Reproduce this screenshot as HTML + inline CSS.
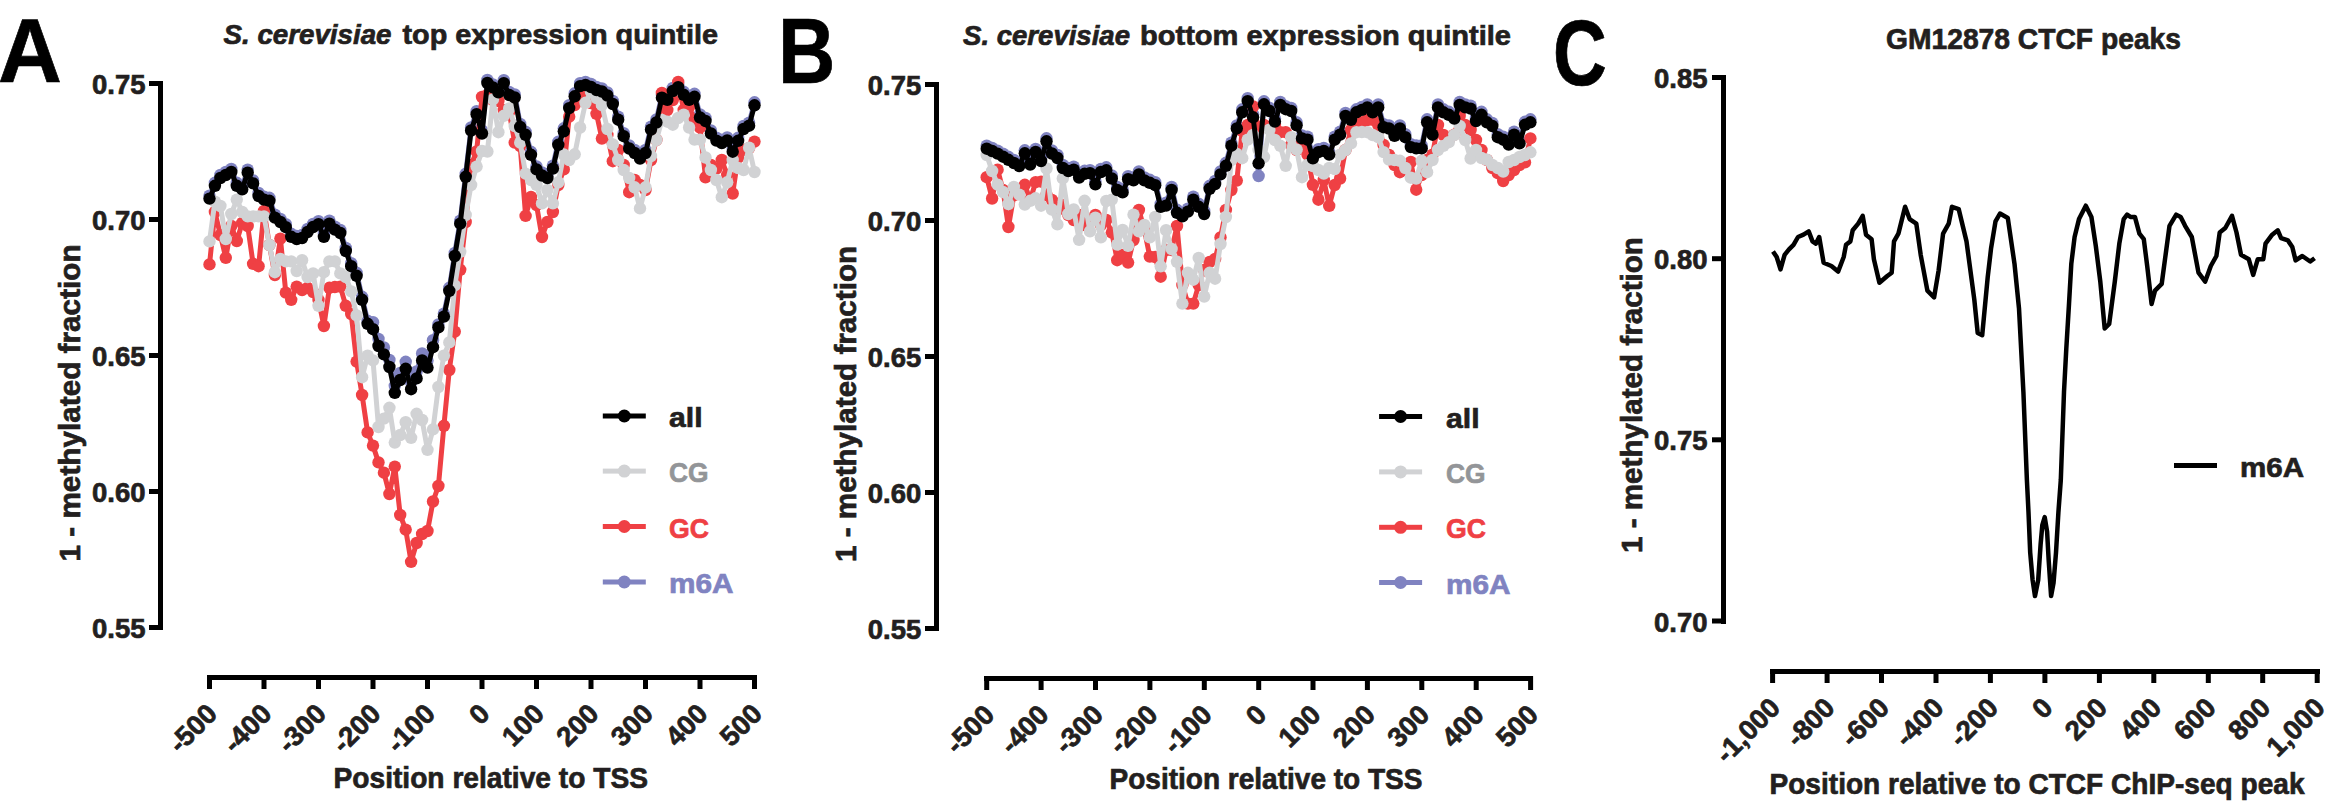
<!DOCTYPE html>
<html><head><meta charset="utf-8"><style>
html,body{margin:0;padding:0;background:#fff;}
svg{display:block;}
text{font-family:"Liberation Sans",sans-serif;stroke-width:0.7px;}
</style></head><body>
<svg width="2334" height="806" viewBox="0 0 2334 806">
<rect width="2334" height="806" fill="#fff"/>
<text transform="translate(-2,81.7) scale(1.005,1.03)" font-size="88" fill="#000" stroke="#000" font-weight="bold">A</text>
<text transform="translate(778,83) scale(0.902,1.05)" font-size="88" fill="#000" stroke="#000" font-weight="bold">B</text>
<text transform="translate(1553,85) scale(0.846,1.045)" font-size="88" fill="#000" stroke="#000" font-weight="bold">C</text>
<rect x="158" y="81" width="5" height="549" fill="#000"/>
<rect x="149" y="81" width="14" height="5" fill="#000"/>
<text x="145.5" y="94" font-size="27.5" fill="#231f20" stroke="#231f20" text-anchor="end" textLength="53.5" lengthAdjust="spacingAndGlyphs" font-weight="bold">0.75</text>
<rect x="149" y="217" width="14" height="5" fill="#000"/>
<text x="145.5" y="230" font-size="27.5" fill="#231f20" stroke="#231f20" text-anchor="end" textLength="53.5" lengthAdjust="spacingAndGlyphs" font-weight="bold">0.70</text>
<rect x="149" y="353" width="14" height="5" fill="#000"/>
<text x="145.5" y="366" font-size="27.5" fill="#231f20" stroke="#231f20" text-anchor="end" textLength="53.5" lengthAdjust="spacingAndGlyphs" font-weight="bold">0.65</text>
<rect x="149" y="489" width="14" height="5" fill="#000"/>
<text x="145.5" y="502" font-size="27.5" fill="#231f20" stroke="#231f20" text-anchor="end" textLength="53.5" lengthAdjust="spacingAndGlyphs" font-weight="bold">0.60</text>
<rect x="149" y="625" width="14" height="5" fill="#000"/>
<text x="145.5" y="638" font-size="27.5" fill="#231f20" stroke="#231f20" text-anchor="end" textLength="53.5" lengthAdjust="spacingAndGlyphs" font-weight="bold">0.55</text>
<rect x="207" y="675" width="550" height="5" fill="#000"/>
<rect x="207" y="675" width="5" height="14" fill="#000"/>
<text transform="translate(218.8,715.5) rotate(-45)" font-size="27.5" fill="#231f20" stroke="#231f20" text-anchor="end" font-weight="bold">-500</text>
<rect x="261.5" y="675" width="5" height="14" fill="#000"/>
<text transform="translate(273.3,715.5) rotate(-45)" font-size="27.5" fill="#231f20" stroke="#231f20" text-anchor="end" font-weight="bold">-400</text>
<rect x="316" y="675" width="5" height="14" fill="#000"/>
<text transform="translate(327.8,715.5) rotate(-45)" font-size="27.5" fill="#231f20" stroke="#231f20" text-anchor="end" font-weight="bold">-300</text>
<rect x="370.5" y="675" width="5" height="14" fill="#000"/>
<text transform="translate(382.3,715.5) rotate(-45)" font-size="27.5" fill="#231f20" stroke="#231f20" text-anchor="end" font-weight="bold">-200</text>
<rect x="425" y="675" width="5" height="14" fill="#000"/>
<text transform="translate(436.8,715.5) rotate(-45)" font-size="27.5" fill="#231f20" stroke="#231f20" text-anchor="end" font-weight="bold">-100</text>
<rect x="479.5" y="675" width="5" height="14" fill="#000"/>
<text transform="translate(491.3,715.5) rotate(-45)" font-size="27.5" fill="#231f20" stroke="#231f20" text-anchor="end" font-weight="bold">0</text>
<rect x="534" y="675" width="5" height="14" fill="#000"/>
<text transform="translate(545.8,715.5) rotate(-45)" font-size="27.5" fill="#231f20" stroke="#231f20" text-anchor="end" font-weight="bold">100</text>
<rect x="588.5" y="675" width="5" height="14" fill="#000"/>
<text transform="translate(600.3,715.5) rotate(-45)" font-size="27.5" fill="#231f20" stroke="#231f20" text-anchor="end" font-weight="bold">200</text>
<rect x="643" y="675" width="5" height="14" fill="#000"/>
<text transform="translate(654.8,715.5) rotate(-45)" font-size="27.5" fill="#231f20" stroke="#231f20" text-anchor="end" font-weight="bold">300</text>
<rect x="697.5" y="675" width="5" height="14" fill="#000"/>
<text transform="translate(709.3,715.5) rotate(-45)" font-size="27.5" fill="#231f20" stroke="#231f20" text-anchor="end" font-weight="bold">400</text>
<rect x="752" y="675" width="5" height="14" fill="#000"/>
<text transform="translate(763.8,715.5) rotate(-45)" font-size="27.5" fill="#231f20" stroke="#231f20" text-anchor="end" font-weight="bold">500</text>
<rect x="934" y="82" width="5" height="549" fill="#000"/>
<rect x="925" y="82" width="14" height="5" fill="#000"/>
<text x="921.3" y="95" font-size="27.5" fill="#231f20" stroke="#231f20" text-anchor="end" textLength="53.5" lengthAdjust="spacingAndGlyphs" font-weight="bold">0.75</text>
<rect x="925" y="218" width="14" height="5" fill="#000"/>
<text x="921.3" y="231" font-size="27.5" fill="#231f20" stroke="#231f20" text-anchor="end" textLength="53.5" lengthAdjust="spacingAndGlyphs" font-weight="bold">0.70</text>
<rect x="925" y="354" width="14" height="5" fill="#000"/>
<text x="921.3" y="367" font-size="27.5" fill="#231f20" stroke="#231f20" text-anchor="end" textLength="53.5" lengthAdjust="spacingAndGlyphs" font-weight="bold">0.65</text>
<rect x="925" y="490" width="14" height="5" fill="#000"/>
<text x="921.3" y="503" font-size="27.5" fill="#231f20" stroke="#231f20" text-anchor="end" textLength="53.5" lengthAdjust="spacingAndGlyphs" font-weight="bold">0.60</text>
<rect x="925" y="626" width="14" height="5" fill="#000"/>
<text x="921.3" y="639" font-size="27.5" fill="#231f20" stroke="#231f20" text-anchor="end" textLength="53.5" lengthAdjust="spacingAndGlyphs" font-weight="bold">0.55</text>
<rect x="984" y="676" width="548.6" height="5" fill="#000"/>
<rect x="984.2" y="676" width="5" height="14" fill="#000"/>
<text transform="translate(996,716.5) rotate(-45)" font-size="27.5" fill="#231f20" stroke="#231f20" text-anchor="end" font-weight="bold">-500</text>
<rect x="1038.6" y="676" width="5" height="14" fill="#000"/>
<text transform="translate(1050.4,716.5) rotate(-45)" font-size="27.5" fill="#231f20" stroke="#231f20" text-anchor="end" font-weight="bold">-400</text>
<rect x="1093" y="676" width="5" height="14" fill="#000"/>
<text transform="translate(1104.8,716.5) rotate(-45)" font-size="27.5" fill="#231f20" stroke="#231f20" text-anchor="end" font-weight="bold">-300</text>
<rect x="1147.4" y="676" width="5" height="14" fill="#000"/>
<text transform="translate(1159.2,716.5) rotate(-45)" font-size="27.5" fill="#231f20" stroke="#231f20" text-anchor="end" font-weight="bold">-200</text>
<rect x="1201.8" y="676" width="5" height="14" fill="#000"/>
<text transform="translate(1213.6,716.5) rotate(-45)" font-size="27.5" fill="#231f20" stroke="#231f20" text-anchor="end" font-weight="bold">-100</text>
<rect x="1256.2" y="676" width="5" height="14" fill="#000"/>
<text transform="translate(1268,716.5) rotate(-45)" font-size="27.5" fill="#231f20" stroke="#231f20" text-anchor="end" font-weight="bold">0</text>
<rect x="1310.5" y="676" width="5" height="14" fill="#000"/>
<text transform="translate(1322.3,716.5) rotate(-45)" font-size="27.5" fill="#231f20" stroke="#231f20" text-anchor="end" font-weight="bold">100</text>
<rect x="1364.9" y="676" width="5" height="14" fill="#000"/>
<text transform="translate(1376.7,716.5) rotate(-45)" font-size="27.5" fill="#231f20" stroke="#231f20" text-anchor="end" font-weight="bold">200</text>
<rect x="1419.3" y="676" width="5" height="14" fill="#000"/>
<text transform="translate(1431.1,716.5) rotate(-45)" font-size="27.5" fill="#231f20" stroke="#231f20" text-anchor="end" font-weight="bold">300</text>
<rect x="1473.7" y="676" width="5" height="14" fill="#000"/>
<text transform="translate(1485.5,716.5) rotate(-45)" font-size="27.5" fill="#231f20" stroke="#231f20" text-anchor="end" font-weight="bold">400</text>
<rect x="1528.1" y="676" width="5" height="14" fill="#000"/>
<text transform="translate(1539.9,716.5) rotate(-45)" font-size="27.5" fill="#231f20" stroke="#231f20" text-anchor="end" font-weight="bold">500</text>
<rect x="1721" y="75" width="5" height="549" fill="#000"/>
<rect x="1712" y="75" width="14" height="5" fill="#000"/>
<text x="1707.5" y="88" font-size="27.5" fill="#231f20" stroke="#231f20" text-anchor="end" textLength="53.5" lengthAdjust="spacingAndGlyphs" font-weight="bold">0.85</text>
<rect x="1712" y="256.2" width="14" height="5" fill="#000"/>
<text x="1707.5" y="269.2" font-size="27.5" fill="#231f20" stroke="#231f20" text-anchor="end" textLength="53.5" lengthAdjust="spacingAndGlyphs" font-weight="bold">0.80</text>
<rect x="1712" y="437.3" width="14" height="5" fill="#000"/>
<text x="1707.5" y="450.3" font-size="27.5" fill="#231f20" stroke="#231f20" text-anchor="end" textLength="53.5" lengthAdjust="spacingAndGlyphs" font-weight="bold">0.75</text>
<rect x="1712" y="618.5" width="14" height="5" fill="#000"/>
<text x="1707.5" y="631.5" font-size="27.5" fill="#231f20" stroke="#231f20" text-anchor="end" textLength="53.5" lengthAdjust="spacingAndGlyphs" font-weight="bold">0.70</text>
<rect x="1770" y="669" width="550" height="5" fill="#000"/>
<rect x="1770.1" y="669" width="5" height="14" fill="#000"/>
<text transform="translate(1781.9,709.5) rotate(-45)" font-size="27.5" fill="#231f20" stroke="#231f20" text-anchor="end" font-weight="bold">-1,000</text>
<rect x="1824.6" y="669" width="5" height="14" fill="#000"/>
<text transform="translate(1836.4,709.5) rotate(-45)" font-size="27.5" fill="#231f20" stroke="#231f20" text-anchor="end" font-weight="bold">-800</text>
<rect x="1879" y="669" width="5" height="14" fill="#000"/>
<text transform="translate(1890.8,709.5) rotate(-45)" font-size="27.5" fill="#231f20" stroke="#231f20" text-anchor="end" font-weight="bold">-600</text>
<rect x="1933.5" y="669" width="5" height="14" fill="#000"/>
<text transform="translate(1945.3,709.5) rotate(-45)" font-size="27.5" fill="#231f20" stroke="#231f20" text-anchor="end" font-weight="bold">-400</text>
<rect x="1987.9" y="669" width="5" height="14" fill="#000"/>
<text transform="translate(1999.7,709.5) rotate(-45)" font-size="27.5" fill="#231f20" stroke="#231f20" text-anchor="end" font-weight="bold">-200</text>
<rect x="2042.4" y="669" width="5" height="14" fill="#000"/>
<text transform="translate(2054.2,709.5) rotate(-45)" font-size="27.5" fill="#231f20" stroke="#231f20" text-anchor="end" font-weight="bold">0</text>
<rect x="2096.9" y="669" width="5" height="14" fill="#000"/>
<text transform="translate(2108.7,709.5) rotate(-45)" font-size="27.5" fill="#231f20" stroke="#231f20" text-anchor="end" font-weight="bold">200</text>
<rect x="2151.3" y="669" width="5" height="14" fill="#000"/>
<text transform="translate(2163.1,709.5) rotate(-45)" font-size="27.5" fill="#231f20" stroke="#231f20" text-anchor="end" font-weight="bold">400</text>
<rect x="2205.8" y="669" width="5" height="14" fill="#000"/>
<text transform="translate(2217.6,709.5) rotate(-45)" font-size="27.5" fill="#231f20" stroke="#231f20" text-anchor="end" font-weight="bold">600</text>
<rect x="2260.2" y="669" width="5" height="14" fill="#000"/>
<text transform="translate(2272,709.5) rotate(-45)" font-size="27.5" fill="#231f20" stroke="#231f20" text-anchor="end" font-weight="bold">800</text>
<rect x="2314.7" y="669" width="5" height="14" fill="#000"/>
<text transform="translate(2326.5,709.5) rotate(-45)" font-size="27.5" fill="#231f20" stroke="#231f20" text-anchor="end" font-weight="bold">1,000</text>
<text x="223.5" y="44.2" font-size="28" fill="#231f20" stroke="#231f20" font-weight="bold" font-style="italic" textLength="168" lengthAdjust="spacingAndGlyphs">S. cerevisiae</text>
<text x="402.5" y="44.2" font-size="28" fill="#231f20" stroke="#231f20" font-weight="bold" textLength="315.5" lengthAdjust="spacingAndGlyphs">top expression quintile</text>
<text x="963" y="45" font-size="28" fill="#231f20" stroke="#231f20" font-weight="bold" font-style="italic" textLength="167" lengthAdjust="spacingAndGlyphs">S. cerevisiae</text>
<text x="1140" y="45" font-size="28" fill="#231f20" stroke="#231f20" font-weight="bold" textLength="371" lengthAdjust="spacingAndGlyphs">bottom expression quintile</text>
<text x="1886" y="48.9" font-size="29" fill="#231f20" stroke="#231f20" text-anchor="start" textLength="295" lengthAdjust="spacingAndGlyphs" font-weight="bold">GM12878 CTCF peaks</text>
<text x="333.5" y="787.7" font-size="29" fill="#231f20" stroke="#231f20" text-anchor="start" textLength="314.5" lengthAdjust="spacingAndGlyphs" font-weight="bold">Position relative to TSS</text>
<text x="1109.5" y="789" font-size="29" fill="#231f20" stroke="#231f20" text-anchor="start" textLength="313" lengthAdjust="spacingAndGlyphs" font-weight="bold">Position relative to TSS</text>
<text x="1769.5" y="794.2" font-size="29" fill="#231f20" stroke="#231f20" text-anchor="start" textLength="535" lengthAdjust="spacingAndGlyphs" font-weight="bold">Position relative to CTCF ChIP-seq peak</text>
<text transform="translate(79.5,561.5) rotate(-90)" font-size="30" fill="#231f20" stroke="#231f20" font-weight="bold" textLength="317.1" lengthAdjust="spacingAndGlyphs">1 - methylated fraction</text>
<text transform="translate(856,562) rotate(-90)" font-size="30" fill="#231f20" stroke="#231f20" font-weight="bold" textLength="316.1" lengthAdjust="spacingAndGlyphs">1 - methylated fraction</text>
<text transform="translate(1642.2,553) rotate(-90)" font-size="30" fill="#231f20" stroke="#231f20" font-weight="bold" textLength="315.9" lengthAdjust="spacingAndGlyphs">1 - methylated fraction</text>
<g>
<polyline points="209.5,195.6 214.9,182.8 220.4,175 225.8,172 231.3,169 236.8,182.8 242.2,186.4 247.7,169.6 253.1,180.4 258.6,193 264,196.6 269.4,197.8 274.9,214.6 280.4,219 285.8,224.2 291.2,233.8 296.7,236 302.1,235 307.6,229 313.1,224 318.5,221.2 323.9,233.8 329.4,220.6 334.9,226.6 340.3,230 345.8,248 351.2,263.2 356.6,272.8 362.1,296.8 367.6,320.8 373,322.2 378.5,339 383.9,347.4 389.4,360 394.8,385.8 400.2,373 405.7,361.8 411.1,382.2 416.6,371.4 422.1,353.4 427.5,360.6 433,340.2 438.4,324.4 443.9,313.6 449.3,287.8 454.8,253 460.2,220.6 465.7,173.8 471.1,127.5 476.6,111.2 482,130.5 487.4,80 492.9,84.4 498.4,89.4 503.8,80.1 509.2,92 514.7,94.5 520.2,124 525.6,131.8 531,151.8 536.5,166.4 542,172.5 547.4,175 552.9,165.6 558.3,141.8 563.8,128.3 569.2,105.1 574.7,93.3 580.1,83.1 585.5,82 591,84 596.5,87 601.9,88.5 607.4,92.5 612.8,101 618.2,116.7 623.7,133.2 629.2,145.5 634.6,150 640,155.5 645.5,150 651,126.6 656.4,119.5 661.9,94.7 667.3,96.9 672.8,88 678.2,84.2 683.7,91.8 689.1,96.9 694.5,93.8 700,114.5 705.5,118 710.9,130.5 716.4,137.6 721.8,140 727.2,137.5 732.7,148.7 738.1,137.8 743.6,126 749.1,122.7 754.5,102.3" fill="none" stroke="#8083c1" stroke-width="5" stroke-linejoin="round"/>
<g fill="#8083c1"><circle cx="209.5" cy="195.6" r="6.2"/><circle cx="214.9" cy="182.8" r="6.2"/><circle cx="220.4" cy="175" r="6.2"/><circle cx="225.8" cy="172" r="6.2"/><circle cx="231.3" cy="169" r="6.2"/><circle cx="236.8" cy="182.8" r="6.2"/><circle cx="242.2" cy="186.4" r="6.2"/><circle cx="247.7" cy="169.6" r="6.2"/><circle cx="253.1" cy="180.4" r="6.2"/><circle cx="258.6" cy="193" r="6.2"/><circle cx="264" cy="196.6" r="6.2"/><circle cx="269.4" cy="197.8" r="6.2"/><circle cx="274.9" cy="214.6" r="6.2"/><circle cx="280.4" cy="219" r="6.2"/><circle cx="285.8" cy="224.2" r="6.2"/><circle cx="291.2" cy="233.8" r="6.2"/><circle cx="296.7" cy="236" r="6.2"/><circle cx="302.1" cy="235" r="6.2"/><circle cx="307.6" cy="229" r="6.2"/><circle cx="313.1" cy="224" r="6.2"/><circle cx="318.5" cy="221.2" r="6.2"/><circle cx="323.9" cy="233.8" r="6.2"/><circle cx="329.4" cy="220.6" r="6.2"/><circle cx="334.9" cy="226.6" r="6.2"/><circle cx="340.3" cy="230" r="6.2"/><circle cx="345.8" cy="248" r="6.2"/><circle cx="351.2" cy="263.2" r="6.2"/><circle cx="356.6" cy="272.8" r="6.2"/><circle cx="362.1" cy="296.8" r="6.2"/><circle cx="367.6" cy="320.8" r="6.2"/><circle cx="373" cy="322.2" r="6.2"/><circle cx="378.5" cy="339" r="6.2"/><circle cx="383.9" cy="347.4" r="6.2"/><circle cx="389.4" cy="360" r="6.2"/><circle cx="394.8" cy="385.8" r="6.2"/><circle cx="400.2" cy="373" r="6.2"/><circle cx="405.7" cy="361.8" r="6.2"/><circle cx="411.1" cy="382.2" r="6.2"/><circle cx="416.6" cy="371.4" r="6.2"/><circle cx="422.1" cy="353.4" r="6.2"/><circle cx="427.5" cy="360.6" r="6.2"/><circle cx="433" cy="340.2" r="6.2"/><circle cx="438.4" cy="324.4" r="6.2"/><circle cx="443.9" cy="313.6" r="6.2"/><circle cx="449.3" cy="287.8" r="6.2"/><circle cx="454.8" cy="253" r="6.2"/><circle cx="460.2" cy="220.6" r="6.2"/><circle cx="465.7" cy="173.8" r="6.2"/><circle cx="471.1" cy="127.5" r="6.2"/><circle cx="476.6" cy="111.2" r="6.2"/><circle cx="482" cy="130.5" r="6.2"/><circle cx="487.4" cy="80" r="6.2"/><circle cx="492.9" cy="84.4" r="6.2"/><circle cx="498.4" cy="89.4" r="6.2"/><circle cx="503.8" cy="80.1" r="6.2"/><circle cx="509.2" cy="92" r="6.2"/><circle cx="514.7" cy="94.5" r="6.2"/><circle cx="520.2" cy="124" r="6.2"/><circle cx="525.6" cy="131.8" r="6.2"/><circle cx="531" cy="151.8" r="6.2"/><circle cx="536.5" cy="166.4" r="6.2"/><circle cx="542" cy="172.5" r="6.2"/><circle cx="547.4" cy="175" r="6.2"/><circle cx="552.9" cy="165.6" r="6.2"/><circle cx="558.3" cy="141.8" r="6.2"/><circle cx="563.8" cy="128.3" r="6.2"/><circle cx="569.2" cy="105.1" r="6.2"/><circle cx="574.7" cy="93.3" r="6.2"/><circle cx="580.1" cy="83.1" r="6.2"/><circle cx="585.5" cy="82" r="6.2"/><circle cx="591" cy="84" r="6.2"/><circle cx="596.5" cy="87" r="6.2"/><circle cx="601.9" cy="88.5" r="6.2"/><circle cx="607.4" cy="92.5" r="6.2"/><circle cx="612.8" cy="101" r="6.2"/><circle cx="618.2" cy="116.7" r="6.2"/><circle cx="623.7" cy="133.2" r="6.2"/><circle cx="629.2" cy="145.5" r="6.2"/><circle cx="634.6" cy="150" r="6.2"/><circle cx="640" cy="155.5" r="6.2"/><circle cx="645.5" cy="150" r="6.2"/><circle cx="651" cy="126.6" r="6.2"/><circle cx="656.4" cy="119.5" r="6.2"/><circle cx="661.9" cy="94.7" r="6.2"/><circle cx="667.3" cy="96.9" r="6.2"/><circle cx="672.8" cy="88" r="6.2"/><circle cx="678.2" cy="84.2" r="6.2"/><circle cx="683.7" cy="91.8" r="6.2"/><circle cx="689.1" cy="96.9" r="6.2"/><circle cx="694.5" cy="93.8" r="6.2"/><circle cx="700" cy="114.5" r="6.2"/><circle cx="705.5" cy="118" r="6.2"/><circle cx="710.9" cy="130.5" r="6.2"/><circle cx="716.4" cy="137.6" r="6.2"/><circle cx="721.8" cy="140" r="6.2"/><circle cx="727.2" cy="137.5" r="6.2"/><circle cx="732.7" cy="148.7" r="6.2"/><circle cx="738.1" cy="137.8" r="6.2"/><circle cx="743.6" cy="126" r="6.2"/><circle cx="749.1" cy="122.7" r="6.2"/><circle cx="754.5" cy="102.3" r="6.2"/></g>
<polyline points="209.5,264.4 214.9,212 220.4,235 225.8,257.8 231.3,226 236.8,241 242.2,223 247.7,226 253.1,263.8 258.6,266.2 264,211 269.4,245 274.9,275 280.4,238.6 285.8,292.6 291.2,299.8 296.7,286.6 302.1,290 307.6,287.8 313.1,292 318.5,300 323.9,326 329.4,287.8 334.9,287 340.3,286.6 345.8,305.8 351.2,314 356.6,361.6 362.1,395 367.6,432.4 373,445.6 378.5,462.4 383.9,472.7 389.4,494 394.8,466.6 400.2,515 405.7,529.6 411.1,561.8 416.6,543 422.1,534 427.5,531 433,501.5 438.4,486 443.9,425.8 449.3,370 454.8,331.6 460.2,269.8 465.7,222 471.1,165 476.6,151.5 482,97 487.4,95 492.9,100 498.4,101 503.8,110 509.2,112 514.7,142.6 520.2,146 525.6,215.9 531,197 536.5,205 542,237 547.4,222 552.9,212 558.3,185 563.8,169.4 569.2,116.7 574.7,105 580.1,94.9 585.5,100 591,103 596.5,113.8 601.9,138.6 607.4,135 612.8,161.2 618.2,150 623.7,165 629.2,192.2 634.6,180 640,185 645.5,190 651,160 656.4,140 661.9,93 667.3,110 672.8,100 678.2,82 683.7,110 689.1,107 694.5,120 700,127.7 705.5,177.3 710.9,165 716.4,168.6 721.8,160 727.2,175 732.7,193.5 738.1,157.5 743.6,150 749.1,148 754.5,141.6" fill="none" stroke="#ef4044" stroke-width="5" stroke-linejoin="round"/>
<g fill="#ef4044"><circle cx="209.5" cy="264.4" r="6.2"/><circle cx="214.9" cy="212" r="6.2"/><circle cx="220.4" cy="235" r="6.2"/><circle cx="225.8" cy="257.8" r="6.2"/><circle cx="231.3" cy="226" r="6.2"/><circle cx="236.8" cy="241" r="6.2"/><circle cx="242.2" cy="223" r="6.2"/><circle cx="247.7" cy="226" r="6.2"/><circle cx="253.1" cy="263.8" r="6.2"/><circle cx="258.6" cy="266.2" r="6.2"/><circle cx="264" cy="211" r="6.2"/><circle cx="269.4" cy="245" r="6.2"/><circle cx="274.9" cy="275" r="6.2"/><circle cx="280.4" cy="238.6" r="6.2"/><circle cx="285.8" cy="292.6" r="6.2"/><circle cx="291.2" cy="299.8" r="6.2"/><circle cx="296.7" cy="286.6" r="6.2"/><circle cx="302.1" cy="290" r="6.2"/><circle cx="307.6" cy="287.8" r="6.2"/><circle cx="313.1" cy="292" r="6.2"/><circle cx="318.5" cy="300" r="6.2"/><circle cx="323.9" cy="326" r="6.2"/><circle cx="329.4" cy="287.8" r="6.2"/><circle cx="334.9" cy="287" r="6.2"/><circle cx="340.3" cy="286.6" r="6.2"/><circle cx="345.8" cy="305.8" r="6.2"/><circle cx="351.2" cy="314" r="6.2"/><circle cx="356.6" cy="361.6" r="6.2"/><circle cx="362.1" cy="395" r="6.2"/><circle cx="367.6" cy="432.4" r="6.2"/><circle cx="373" cy="445.6" r="6.2"/><circle cx="378.5" cy="462.4" r="6.2"/><circle cx="383.9" cy="472.7" r="6.2"/><circle cx="389.4" cy="494" r="6.2"/><circle cx="394.8" cy="466.6" r="6.2"/><circle cx="400.2" cy="515" r="6.2"/><circle cx="405.7" cy="529.6" r="6.2"/><circle cx="411.1" cy="561.8" r="6.2"/><circle cx="416.6" cy="543" r="6.2"/><circle cx="422.1" cy="534" r="6.2"/><circle cx="427.5" cy="531" r="6.2"/><circle cx="433" cy="501.5" r="6.2"/><circle cx="438.4" cy="486" r="6.2"/><circle cx="443.9" cy="425.8" r="6.2"/><circle cx="449.3" cy="370" r="6.2"/><circle cx="454.8" cy="331.6" r="6.2"/><circle cx="460.2" cy="269.8" r="6.2"/><circle cx="465.7" cy="222" r="6.2"/><circle cx="471.1" cy="165" r="6.2"/><circle cx="476.6" cy="151.5" r="6.2"/><circle cx="482" cy="97" r="6.2"/><circle cx="487.4" cy="95" r="6.2"/><circle cx="492.9" cy="100" r="6.2"/><circle cx="498.4" cy="101" r="6.2"/><circle cx="503.8" cy="110" r="6.2"/><circle cx="509.2" cy="112" r="6.2"/><circle cx="514.7" cy="142.6" r="6.2"/><circle cx="520.2" cy="146" r="6.2"/><circle cx="525.6" cy="215.9" r="6.2"/><circle cx="531" cy="197" r="6.2"/><circle cx="536.5" cy="205" r="6.2"/><circle cx="542" cy="237" r="6.2"/><circle cx="547.4" cy="222" r="6.2"/><circle cx="552.9" cy="212" r="6.2"/><circle cx="558.3" cy="185" r="6.2"/><circle cx="563.8" cy="169.4" r="6.2"/><circle cx="569.2" cy="116.7" r="6.2"/><circle cx="574.7" cy="105" r="6.2"/><circle cx="580.1" cy="94.9" r="6.2"/><circle cx="585.5" cy="100" r="6.2"/><circle cx="591" cy="103" r="6.2"/><circle cx="596.5" cy="113.8" r="6.2"/><circle cx="601.9" cy="138.6" r="6.2"/><circle cx="607.4" cy="135" r="6.2"/><circle cx="612.8" cy="161.2" r="6.2"/><circle cx="618.2" cy="150" r="6.2"/><circle cx="623.7" cy="165" r="6.2"/><circle cx="629.2" cy="192.2" r="6.2"/><circle cx="634.6" cy="180" r="6.2"/><circle cx="640" cy="185" r="6.2"/><circle cx="645.5" cy="190" r="6.2"/><circle cx="651" cy="160" r="6.2"/><circle cx="656.4" cy="140" r="6.2"/><circle cx="661.9" cy="93" r="6.2"/><circle cx="667.3" cy="110" r="6.2"/><circle cx="672.8" cy="100" r="6.2"/><circle cx="678.2" cy="82" r="6.2"/><circle cx="683.7" cy="110" r="6.2"/><circle cx="689.1" cy="107" r="6.2"/><circle cx="694.5" cy="120" r="6.2"/><circle cx="700" cy="127.7" r="6.2"/><circle cx="705.5" cy="177.3" r="6.2"/><circle cx="710.9" cy="165" r="6.2"/><circle cx="716.4" cy="168.6" r="6.2"/><circle cx="721.8" cy="160" r="6.2"/><circle cx="727.2" cy="175" r="6.2"/><circle cx="732.7" cy="193.5" r="6.2"/><circle cx="738.1" cy="157.5" r="6.2"/><circle cx="743.6" cy="150" r="6.2"/><circle cx="749.1" cy="148" r="6.2"/><circle cx="754.5" cy="141.6" r="6.2"/></g>
<polyline points="209.5,241.4 214.9,201.7 220.4,206 225.8,239 231.3,214 236.8,199.6 242.2,212 247.7,216.4 253.1,216.4 258.6,216.4 264,216.4 269.4,245 274.9,272.2 280.4,259 285.8,261.4 291.2,261.4 296.7,271 302.1,260.2 307.6,277 313.1,273.4 318.5,305.8 323.9,272.2 329.4,261.4 334.9,261.4 340.3,273.4 345.8,277 351.2,291.4 356.6,315.4 362.1,377.2 367.6,355.6 373,360.4 378.5,427 383.9,418.6 389.4,407.8 394.8,442.6 400.2,435 405.7,422.2 411.1,437.8 416.6,413.8 422.1,420 427.5,449.8 433,429.4 438.4,387 443.9,355.6 449.3,342.4 454.8,285.4 460.2,251.8 465.7,215 471.1,185 476.6,166.6 482,151 487.4,151.5 492.9,99.4 498.4,132.2 503.8,115.8 509.2,108.5 514.7,126 520.2,142.6 525.6,173.7 531,180 536.5,184.8 542,203.4 547.4,190 552.9,203.4 558.3,182.3 563.8,154.5 569.2,160 574.7,154.3 580.1,127.5 585.5,102.8 591,92 596.5,98 601.9,105 607.4,129 612.8,144.4 618.2,160 623.7,170 629.2,178 634.6,187.3 640,208.4 645.5,187.3 651,156 656.4,140 661.9,120 667.3,121.7 672.8,124.7 678.2,118 683.7,114.7 689.1,127.5 694.5,139.6 700,139.6 705.5,157.5 710.9,170 716.4,180 721.8,197.2 727.2,182.3 732.7,160 738.1,168 743.6,170 749.1,147.7 754.5,172" fill="none" stroke="#d1d2d4" stroke-width="5" stroke-linejoin="round"/>
<g fill="#d1d2d4"><circle cx="209.5" cy="241.4" r="6.2"/><circle cx="214.9" cy="201.7" r="6.2"/><circle cx="220.4" cy="206" r="6.2"/><circle cx="225.8" cy="239" r="6.2"/><circle cx="231.3" cy="214" r="6.2"/><circle cx="236.8" cy="199.6" r="6.2"/><circle cx="242.2" cy="212" r="6.2"/><circle cx="247.7" cy="216.4" r="6.2"/><circle cx="253.1" cy="216.4" r="6.2"/><circle cx="258.6" cy="216.4" r="6.2"/><circle cx="264" cy="216.4" r="6.2"/><circle cx="269.4" cy="245" r="6.2"/><circle cx="274.9" cy="272.2" r="6.2"/><circle cx="280.4" cy="259" r="6.2"/><circle cx="285.8" cy="261.4" r="6.2"/><circle cx="291.2" cy="261.4" r="6.2"/><circle cx="296.7" cy="271" r="6.2"/><circle cx="302.1" cy="260.2" r="6.2"/><circle cx="307.6" cy="277" r="6.2"/><circle cx="313.1" cy="273.4" r="6.2"/><circle cx="318.5" cy="305.8" r="6.2"/><circle cx="323.9" cy="272.2" r="6.2"/><circle cx="329.4" cy="261.4" r="6.2"/><circle cx="334.9" cy="261.4" r="6.2"/><circle cx="340.3" cy="273.4" r="6.2"/><circle cx="345.8" cy="277" r="6.2"/><circle cx="351.2" cy="291.4" r="6.2"/><circle cx="356.6" cy="315.4" r="6.2"/><circle cx="362.1" cy="377.2" r="6.2"/><circle cx="367.6" cy="355.6" r="6.2"/><circle cx="373" cy="360.4" r="6.2"/><circle cx="378.5" cy="427" r="6.2"/><circle cx="383.9" cy="418.6" r="6.2"/><circle cx="389.4" cy="407.8" r="6.2"/><circle cx="394.8" cy="442.6" r="6.2"/><circle cx="400.2" cy="435" r="6.2"/><circle cx="405.7" cy="422.2" r="6.2"/><circle cx="411.1" cy="437.8" r="6.2"/><circle cx="416.6" cy="413.8" r="6.2"/><circle cx="422.1" cy="420" r="6.2"/><circle cx="427.5" cy="449.8" r="6.2"/><circle cx="433" cy="429.4" r="6.2"/><circle cx="438.4" cy="387" r="6.2"/><circle cx="443.9" cy="355.6" r="6.2"/><circle cx="449.3" cy="342.4" r="6.2"/><circle cx="454.8" cy="285.4" r="6.2"/><circle cx="460.2" cy="251.8" r="6.2"/><circle cx="465.7" cy="215" r="6.2"/><circle cx="471.1" cy="185" r="6.2"/><circle cx="476.6" cy="166.6" r="6.2"/><circle cx="482" cy="151" r="6.2"/><circle cx="487.4" cy="151.5" r="6.2"/><circle cx="492.9" cy="99.4" r="6.2"/><circle cx="498.4" cy="132.2" r="6.2"/><circle cx="503.8" cy="115.8" r="6.2"/><circle cx="509.2" cy="108.5" r="6.2"/><circle cx="514.7" cy="126" r="6.2"/><circle cx="520.2" cy="142.6" r="6.2"/><circle cx="525.6" cy="173.7" r="6.2"/><circle cx="531" cy="180" r="6.2"/><circle cx="536.5" cy="184.8" r="6.2"/><circle cx="542" cy="203.4" r="6.2"/><circle cx="547.4" cy="190" r="6.2"/><circle cx="552.9" cy="203.4" r="6.2"/><circle cx="558.3" cy="182.3" r="6.2"/><circle cx="563.8" cy="154.5" r="6.2"/><circle cx="569.2" cy="160" r="6.2"/><circle cx="574.7" cy="154.3" r="6.2"/><circle cx="580.1" cy="127.5" r="6.2"/><circle cx="585.5" cy="102.8" r="6.2"/><circle cx="591" cy="92" r="6.2"/><circle cx="596.5" cy="98" r="6.2"/><circle cx="601.9" cy="105" r="6.2"/><circle cx="607.4" cy="129" r="6.2"/><circle cx="612.8" cy="144.4" r="6.2"/><circle cx="618.2" cy="160" r="6.2"/><circle cx="623.7" cy="170" r="6.2"/><circle cx="629.2" cy="178" r="6.2"/><circle cx="634.6" cy="187.3" r="6.2"/><circle cx="640" cy="208.4" r="6.2"/><circle cx="645.5" cy="187.3" r="6.2"/><circle cx="651" cy="156" r="6.2"/><circle cx="656.4" cy="140" r="6.2"/><circle cx="661.9" cy="120" r="6.2"/><circle cx="667.3" cy="121.7" r="6.2"/><circle cx="672.8" cy="124.7" r="6.2"/><circle cx="678.2" cy="118" r="6.2"/><circle cx="683.7" cy="114.7" r="6.2"/><circle cx="689.1" cy="127.5" r="6.2"/><circle cx="694.5" cy="139.6" r="6.2"/><circle cx="700" cy="139.6" r="6.2"/><circle cx="705.5" cy="157.5" r="6.2"/><circle cx="710.9" cy="170" r="6.2"/><circle cx="716.4" cy="180" r="6.2"/><circle cx="721.8" cy="197.2" r="6.2"/><circle cx="727.2" cy="182.3" r="6.2"/><circle cx="732.7" cy="160" r="6.2"/><circle cx="738.1" cy="168" r="6.2"/><circle cx="743.6" cy="170" r="6.2"/><circle cx="749.1" cy="147.7" r="6.2"/><circle cx="754.5" cy="172" r="6.2"/></g>
<polyline points="209.5,198.6 214.9,185.8 220.4,178 225.8,175 231.3,172 236.8,185.8 242.2,189.4 247.7,172.6 253.1,183.4 258.6,196 264,199.6 269.4,200.8 274.9,217.6 280.4,222 285.8,227.2 291.2,236.8 296.7,239 302.1,238 307.6,232 313.1,227 318.5,224.2 323.9,236.8 329.4,223.6 334.9,229.6 340.3,233 345.8,251 351.2,266.2 356.6,275.8 362.1,299.8 367.6,323.8 373,329.2 378.5,346 383.9,354.4 389.4,367 394.8,392.8 400.2,380 405.7,368.8 411.1,389.2 416.6,378.4 422.1,360.4 427.5,367.6 433,347.2 438.4,327.4 443.9,316.6 449.3,290.8 454.8,256 460.2,223.6 465.7,176.8 471.1,130.5 476.6,114.2 482,133.5 487.4,83 492.9,87.4 498.4,92.4 503.8,83.1 509.2,95 514.7,97.5 520.2,127 525.6,134.8 531,154.8 536.5,169.4 542,175.5 547.4,178 552.9,168.6 558.3,144.8 563.8,131.3 569.2,108.1 574.7,96.3 580.1,86.1 585.5,85 591,87 596.5,90 601.9,91.5 607.4,95.5 612.8,104 618.2,119.7 623.7,136.2 629.2,148.5 634.6,153 640,158.5 645.5,153 651,129.6 656.4,122.5 661.9,97.7 667.3,99.9 672.8,91 678.2,87.2 683.7,94.8 689.1,99.9 694.5,96.8 700,117.5 705.5,121 710.9,133.5 716.4,140.6 721.8,143 727.2,140.5 732.7,151.7 738.1,140.8 743.6,129 749.1,125.7 754.5,105.3" fill="none" stroke="#000" stroke-width="5" stroke-linejoin="round"/>
<g fill="#000"><circle cx="209.5" cy="198.6" r="6.2"/><circle cx="214.9" cy="185.8" r="6.2"/><circle cx="220.4" cy="178" r="6.2"/><circle cx="225.8" cy="175" r="6.2"/><circle cx="231.3" cy="172" r="6.2"/><circle cx="236.8" cy="185.8" r="6.2"/><circle cx="242.2" cy="189.4" r="6.2"/><circle cx="247.7" cy="172.6" r="6.2"/><circle cx="253.1" cy="183.4" r="6.2"/><circle cx="258.6" cy="196" r="6.2"/><circle cx="264" cy="199.6" r="6.2"/><circle cx="269.4" cy="200.8" r="6.2"/><circle cx="274.9" cy="217.6" r="6.2"/><circle cx="280.4" cy="222" r="6.2"/><circle cx="285.8" cy="227.2" r="6.2"/><circle cx="291.2" cy="236.8" r="6.2"/><circle cx="296.7" cy="239" r="6.2"/><circle cx="302.1" cy="238" r="6.2"/><circle cx="307.6" cy="232" r="6.2"/><circle cx="313.1" cy="227" r="6.2"/><circle cx="318.5" cy="224.2" r="6.2"/><circle cx="323.9" cy="236.8" r="6.2"/><circle cx="329.4" cy="223.6" r="6.2"/><circle cx="334.9" cy="229.6" r="6.2"/><circle cx="340.3" cy="233" r="6.2"/><circle cx="345.8" cy="251" r="6.2"/><circle cx="351.2" cy="266.2" r="6.2"/><circle cx="356.6" cy="275.8" r="6.2"/><circle cx="362.1" cy="299.8" r="6.2"/><circle cx="367.6" cy="323.8" r="6.2"/><circle cx="373" cy="329.2" r="6.2"/><circle cx="378.5" cy="346" r="6.2"/><circle cx="383.9" cy="354.4" r="6.2"/><circle cx="389.4" cy="367" r="6.2"/><circle cx="394.8" cy="392.8" r="6.2"/><circle cx="400.2" cy="380" r="6.2"/><circle cx="405.7" cy="368.8" r="6.2"/><circle cx="411.1" cy="389.2" r="6.2"/><circle cx="416.6" cy="378.4" r="6.2"/><circle cx="422.1" cy="360.4" r="6.2"/><circle cx="427.5" cy="367.6" r="6.2"/><circle cx="433" cy="347.2" r="6.2"/><circle cx="438.4" cy="327.4" r="6.2"/><circle cx="443.9" cy="316.6" r="6.2"/><circle cx="449.3" cy="290.8" r="6.2"/><circle cx="454.8" cy="256" r="6.2"/><circle cx="460.2" cy="223.6" r="6.2"/><circle cx="465.7" cy="176.8" r="6.2"/><circle cx="471.1" cy="130.5" r="6.2"/><circle cx="476.6" cy="114.2" r="6.2"/><circle cx="482" cy="133.5" r="6.2"/><circle cx="487.4" cy="83" r="6.2"/><circle cx="492.9" cy="87.4" r="6.2"/><circle cx="498.4" cy="92.4" r="6.2"/><circle cx="503.8" cy="83.1" r="6.2"/><circle cx="509.2" cy="95" r="6.2"/><circle cx="514.7" cy="97.5" r="6.2"/><circle cx="520.2" cy="127" r="6.2"/><circle cx="525.6" cy="134.8" r="6.2"/><circle cx="531" cy="154.8" r="6.2"/><circle cx="536.5" cy="169.4" r="6.2"/><circle cx="542" cy="175.5" r="6.2"/><circle cx="547.4" cy="178" r="6.2"/><circle cx="552.9" cy="168.6" r="6.2"/><circle cx="558.3" cy="144.8" r="6.2"/><circle cx="563.8" cy="131.3" r="6.2"/><circle cx="569.2" cy="108.1" r="6.2"/><circle cx="574.7" cy="96.3" r="6.2"/><circle cx="580.1" cy="86.1" r="6.2"/><circle cx="585.5" cy="85" r="6.2"/><circle cx="591" cy="87" r="6.2"/><circle cx="596.5" cy="90" r="6.2"/><circle cx="601.9" cy="91.5" r="6.2"/><circle cx="607.4" cy="95.5" r="6.2"/><circle cx="612.8" cy="104" r="6.2"/><circle cx="618.2" cy="119.7" r="6.2"/><circle cx="623.7" cy="136.2" r="6.2"/><circle cx="629.2" cy="148.5" r="6.2"/><circle cx="634.6" cy="153" r="6.2"/><circle cx="640" cy="158.5" r="6.2"/><circle cx="645.5" cy="153" r="6.2"/><circle cx="651" cy="129.6" r="6.2"/><circle cx="656.4" cy="122.5" r="6.2"/><circle cx="661.9" cy="97.7" r="6.2"/><circle cx="667.3" cy="99.9" r="6.2"/><circle cx="672.8" cy="91" r="6.2"/><circle cx="678.2" cy="87.2" r="6.2"/><circle cx="683.7" cy="94.8" r="6.2"/><circle cx="689.1" cy="99.9" r="6.2"/><circle cx="694.5" cy="96.8" r="6.2"/><circle cx="700" cy="117.5" r="6.2"/><circle cx="705.5" cy="121" r="6.2"/><circle cx="710.9" cy="133.5" r="6.2"/><circle cx="716.4" cy="140.6" r="6.2"/><circle cx="721.8" cy="143" r="6.2"/><circle cx="727.2" cy="140.5" r="6.2"/><circle cx="732.7" cy="151.7" r="6.2"/><circle cx="738.1" cy="140.8" r="6.2"/><circle cx="743.6" cy="129" r="6.2"/><circle cx="749.1" cy="125.7" r="6.2"/><circle cx="754.5" cy="105.3" r="6.2"/></g>
<polyline points="986.7,145.7 992.1,148 997.6,150.6 1003,153.7 1008.4,156.8 1013.9,160 1019.3,163 1024.8,150.3 1030.2,161.5 1035.6,149 1041.1,158 1046.5,138.3 1051.9,150.5 1057.4,155 1062.8,165 1068.3,168 1073.7,166.7 1079.1,174.5 1084.6,170.8 1090,170.2 1095.4,181.3 1100.9,169 1106.3,167.3 1111.8,175.5 1117.2,187 1122.6,189.4 1128.1,176.2 1133.5,177.4 1138.9,171.4 1144.4,177.4 1149.8,179.8 1155.2,182.2 1160.7,203.8 1166.1,202.6 1171.6,187 1177,209.8 1182.4,213.4 1187.9,208.6 1193.3,196.6 1198.7,203.8 1204.2,211 1209.6,185.8 1215.1,181 1220.5,171.4 1225.9,162.8 1231.4,142.7 1236.8,125.4 1242.2,109.3 1247.7,98.1 1253.1,114.3 1258.6,176 1264,101.3 1269.4,108 1274.9,118.6 1280.3,101.9 1285.7,106.2 1291.2,108 1296.6,122.3 1302,135.4 1307.5,136.7 1312.9,155.3 1318.4,149.1 1323.8,147.9 1329.2,151.6 1334.7,136.7 1340.1,131.7 1345.5,113 1351,116.8 1356.4,109.3 1361.9,106.9 1367.3,104.4 1372.7,109.3 1378.2,104.4 1383.6,124.2 1389,125.5 1394.5,132.9 1399.9,125.5 1405.3,134.2 1410.8,144.1 1416.2,145.4 1421.7,145.4 1427.1,119.3 1432.5,131.7 1438,104.4 1443.4,109.3 1448.8,111.8 1454.3,115.5 1459.7,101.9 1465.2,104.4 1470.6,105.6 1476,118 1481.5,111.8 1486.9,119.3 1492.3,123 1497.8,134.2 1503.2,136.7 1508.7,141.6 1514.1,131.7 1519.5,140.4 1525,121.8 1530.4,119.3" fill="none" stroke="#8083c1" stroke-width="5" stroke-linejoin="round"/>
<g fill="#8083c1"><circle cx="986.7" cy="145.7" r="6.2"/><circle cx="992.1" cy="148" r="6.2"/><circle cx="997.6" cy="150.6" r="6.2"/><circle cx="1003" cy="153.7" r="6.2"/><circle cx="1008.4" cy="156.8" r="6.2"/><circle cx="1013.9" cy="160" r="6.2"/><circle cx="1019.3" cy="163" r="6.2"/><circle cx="1024.8" cy="150.3" r="6.2"/><circle cx="1030.2" cy="161.5" r="6.2"/><circle cx="1035.6" cy="149" r="6.2"/><circle cx="1041.1" cy="158" r="6.2"/><circle cx="1046.5" cy="138.3" r="6.2"/><circle cx="1051.9" cy="150.5" r="6.2"/><circle cx="1057.4" cy="155" r="6.2"/><circle cx="1062.8" cy="165" r="6.2"/><circle cx="1068.3" cy="168" r="6.2"/><circle cx="1073.7" cy="166.7" r="6.2"/><circle cx="1079.1" cy="174.5" r="6.2"/><circle cx="1084.6" cy="170.8" r="6.2"/><circle cx="1090" cy="170.2" r="6.2"/><circle cx="1095.4" cy="181.3" r="6.2"/><circle cx="1100.9" cy="169" r="6.2"/><circle cx="1106.3" cy="167.3" r="6.2"/><circle cx="1111.8" cy="175.5" r="6.2"/><circle cx="1117.2" cy="187" r="6.2"/><circle cx="1122.6" cy="189.4" r="6.2"/><circle cx="1128.1" cy="176.2" r="6.2"/><circle cx="1133.5" cy="177.4" r="6.2"/><circle cx="1138.9" cy="171.4" r="6.2"/><circle cx="1144.4" cy="177.4" r="6.2"/><circle cx="1149.8" cy="179.8" r="6.2"/><circle cx="1155.2" cy="182.2" r="6.2"/><circle cx="1160.7" cy="203.8" r="6.2"/><circle cx="1166.1" cy="202.6" r="6.2"/><circle cx="1171.6" cy="187" r="6.2"/><circle cx="1177" cy="209.8" r="6.2"/><circle cx="1182.4" cy="213.4" r="6.2"/><circle cx="1187.9" cy="208.6" r="6.2"/><circle cx="1193.3" cy="196.6" r="6.2"/><circle cx="1198.7" cy="203.8" r="6.2"/><circle cx="1204.2" cy="211" r="6.2"/><circle cx="1209.6" cy="185.8" r="6.2"/><circle cx="1215.1" cy="181" r="6.2"/><circle cx="1220.5" cy="171.4" r="6.2"/><circle cx="1225.9" cy="162.8" r="6.2"/><circle cx="1231.4" cy="142.7" r="6.2"/><circle cx="1236.8" cy="125.4" r="6.2"/><circle cx="1242.2" cy="109.3" r="6.2"/><circle cx="1247.7" cy="98.1" r="6.2"/><circle cx="1253.1" cy="114.3" r="6.2"/><circle cx="1258.6" cy="176" r="6.2"/><circle cx="1264" cy="101.3" r="6.2"/><circle cx="1269.4" cy="108" r="6.2"/><circle cx="1274.9" cy="118.6" r="6.2"/><circle cx="1280.3" cy="101.9" r="6.2"/><circle cx="1285.7" cy="106.2" r="6.2"/><circle cx="1291.2" cy="108" r="6.2"/><circle cx="1296.6" cy="122.3" r="6.2"/><circle cx="1302" cy="135.4" r="6.2"/><circle cx="1307.5" cy="136.7" r="6.2"/><circle cx="1312.9" cy="155.3" r="6.2"/><circle cx="1318.4" cy="149.1" r="6.2"/><circle cx="1323.8" cy="147.9" r="6.2"/><circle cx="1329.2" cy="151.6" r="6.2"/><circle cx="1334.7" cy="136.7" r="6.2"/><circle cx="1340.1" cy="131.7" r="6.2"/><circle cx="1345.5" cy="113" r="6.2"/><circle cx="1351" cy="116.8" r="6.2"/><circle cx="1356.4" cy="109.3" r="6.2"/><circle cx="1361.9" cy="106.9" r="6.2"/><circle cx="1367.3" cy="104.4" r="6.2"/><circle cx="1372.7" cy="109.3" r="6.2"/><circle cx="1378.2" cy="104.4" r="6.2"/><circle cx="1383.6" cy="124.2" r="6.2"/><circle cx="1389" cy="125.5" r="6.2"/><circle cx="1394.5" cy="132.9" r="6.2"/><circle cx="1399.9" cy="125.5" r="6.2"/><circle cx="1405.3" cy="134.2" r="6.2"/><circle cx="1410.8" cy="144.1" r="6.2"/><circle cx="1416.2" cy="145.4" r="6.2"/><circle cx="1421.7" cy="145.4" r="6.2"/><circle cx="1427.1" cy="119.3" r="6.2"/><circle cx="1432.5" cy="131.7" r="6.2"/><circle cx="1438" cy="104.4" r="6.2"/><circle cx="1443.4" cy="109.3" r="6.2"/><circle cx="1448.8" cy="111.8" r="6.2"/><circle cx="1454.3" cy="115.5" r="6.2"/><circle cx="1459.7" cy="101.9" r="6.2"/><circle cx="1465.2" cy="104.4" r="6.2"/><circle cx="1470.6" cy="105.6" r="6.2"/><circle cx="1476" cy="118" r="6.2"/><circle cx="1481.5" cy="111.8" r="6.2"/><circle cx="1486.9" cy="119.3" r="6.2"/><circle cx="1492.3" cy="123" r="6.2"/><circle cx="1497.8" cy="134.2" r="6.2"/><circle cx="1503.2" cy="136.7" r="6.2"/><circle cx="1508.7" cy="141.6" r="6.2"/><circle cx="1514.1" cy="131.7" r="6.2"/><circle cx="1519.5" cy="140.4" r="6.2"/><circle cx="1525" cy="121.8" r="6.2"/><circle cx="1530.4" cy="119.3" r="6.2"/></g>
<polyline points="986.7,177.2 992.1,198.5 997.6,169.7 1003,190 1008.4,227 1013.9,195 1019.3,190 1024.8,184.8 1030.2,200 1035.6,182.2 1041.1,181.6 1046.5,195 1051.9,200 1057.4,210 1062.8,205 1068.3,215 1073.7,220 1079.1,215 1084.6,225 1090,220 1095.4,215 1100.9,225 1106.3,220 1111.8,232.6 1117.2,260.2 1122.6,255 1128.1,262.6 1133.5,240 1138.9,210 1144.4,230 1149.8,256.6 1155.2,257 1160.7,276.7 1166.1,250 1171.6,250 1177,226 1182.4,285 1187.9,303.6 1193.3,303.6 1198.7,285 1204.2,270 1209.6,262 1215.1,259 1220.5,237.4 1225.9,210 1231.4,190 1236.8,180.6 1242.2,131 1247.7,125 1253.1,106.5 1258.6,130 1264,125 1269.4,128 1274.9,125 1280.3,132.2 1285.7,132.2 1291.2,145 1296.6,150 1302,140 1307.5,154.6 1312.9,184.8 1318.4,199.7 1323.8,180 1329.2,205.9 1334.7,185 1340.1,178.5 1345.5,150 1351,130 1356.4,125 1361.9,122.3 1367.3,120 1372.7,119.8 1378.2,125 1383.6,145 1389,155 1394.5,165 1399.9,172.2 1405.3,165 1410.8,162 1416.2,189.7 1421.7,175 1427.1,160 1432.5,154.6 1438,125 1443.4,135 1448.8,140 1454.3,134.7 1459.7,116 1465.2,125 1470.6,130 1476,140 1481.5,150 1486.9,160 1492.3,168 1497.8,173.2 1503.2,181 1508.7,175 1514.1,170 1519.5,165 1525,162.4 1530.4,138.4" fill="none" stroke="#ef4044" stroke-width="5" stroke-linejoin="round"/>
<g fill="#ef4044"><circle cx="986.7" cy="177.2" r="6.2"/><circle cx="992.1" cy="198.5" r="6.2"/><circle cx="997.6" cy="169.7" r="6.2"/><circle cx="1003" cy="190" r="6.2"/><circle cx="1008.4" cy="227" r="6.2"/><circle cx="1013.9" cy="195" r="6.2"/><circle cx="1019.3" cy="190" r="6.2"/><circle cx="1024.8" cy="184.8" r="6.2"/><circle cx="1030.2" cy="200" r="6.2"/><circle cx="1035.6" cy="182.2" r="6.2"/><circle cx="1041.1" cy="181.6" r="6.2"/><circle cx="1046.5" cy="195" r="6.2"/><circle cx="1051.9" cy="200" r="6.2"/><circle cx="1057.4" cy="210" r="6.2"/><circle cx="1062.8" cy="205" r="6.2"/><circle cx="1068.3" cy="215" r="6.2"/><circle cx="1073.7" cy="220" r="6.2"/><circle cx="1079.1" cy="215" r="6.2"/><circle cx="1084.6" cy="225" r="6.2"/><circle cx="1090" cy="220" r="6.2"/><circle cx="1095.4" cy="215" r="6.2"/><circle cx="1100.9" cy="225" r="6.2"/><circle cx="1106.3" cy="220" r="6.2"/><circle cx="1111.8" cy="232.6" r="6.2"/><circle cx="1117.2" cy="260.2" r="6.2"/><circle cx="1122.6" cy="255" r="6.2"/><circle cx="1128.1" cy="262.6" r="6.2"/><circle cx="1133.5" cy="240" r="6.2"/><circle cx="1138.9" cy="210" r="6.2"/><circle cx="1144.4" cy="230" r="6.2"/><circle cx="1149.8" cy="256.6" r="6.2"/><circle cx="1155.2" cy="257" r="6.2"/><circle cx="1160.7" cy="276.7" r="6.2"/><circle cx="1166.1" cy="250" r="6.2"/><circle cx="1171.6" cy="250" r="6.2"/><circle cx="1177" cy="226" r="6.2"/><circle cx="1182.4" cy="285" r="6.2"/><circle cx="1187.9" cy="303.6" r="6.2"/><circle cx="1193.3" cy="303.6" r="6.2"/><circle cx="1198.7" cy="285" r="6.2"/><circle cx="1204.2" cy="270" r="6.2"/><circle cx="1209.6" cy="262" r="6.2"/><circle cx="1215.1" cy="259" r="6.2"/><circle cx="1220.5" cy="237.4" r="6.2"/><circle cx="1225.9" cy="210" r="6.2"/><circle cx="1231.4" cy="190" r="6.2"/><circle cx="1236.8" cy="180.6" r="6.2"/><circle cx="1242.2" cy="131" r="6.2"/><circle cx="1247.7" cy="125" r="6.2"/><circle cx="1253.1" cy="106.5" r="6.2"/><circle cx="1258.6" cy="130" r="6.2"/><circle cx="1264" cy="125" r="6.2"/><circle cx="1269.4" cy="128" r="6.2"/><circle cx="1274.9" cy="125" r="6.2"/><circle cx="1280.3" cy="132.2" r="6.2"/><circle cx="1285.7" cy="132.2" r="6.2"/><circle cx="1291.2" cy="145" r="6.2"/><circle cx="1296.6" cy="150" r="6.2"/><circle cx="1302" cy="140" r="6.2"/><circle cx="1307.5" cy="154.6" r="6.2"/><circle cx="1312.9" cy="184.8" r="6.2"/><circle cx="1318.4" cy="199.7" r="6.2"/><circle cx="1323.8" cy="180" r="6.2"/><circle cx="1329.2" cy="205.9" r="6.2"/><circle cx="1334.7" cy="185" r="6.2"/><circle cx="1340.1" cy="178.5" r="6.2"/><circle cx="1345.5" cy="150" r="6.2"/><circle cx="1351" cy="130" r="6.2"/><circle cx="1356.4" cy="125" r="6.2"/><circle cx="1361.9" cy="122.3" r="6.2"/><circle cx="1367.3" cy="120" r="6.2"/><circle cx="1372.7" cy="119.8" r="6.2"/><circle cx="1378.2" cy="125" r="6.2"/><circle cx="1383.6" cy="145" r="6.2"/><circle cx="1389" cy="155" r="6.2"/><circle cx="1394.5" cy="165" r="6.2"/><circle cx="1399.9" cy="172.2" r="6.2"/><circle cx="1405.3" cy="165" r="6.2"/><circle cx="1410.8" cy="162" r="6.2"/><circle cx="1416.2" cy="189.7" r="6.2"/><circle cx="1421.7" cy="175" r="6.2"/><circle cx="1427.1" cy="160" r="6.2"/><circle cx="1432.5" cy="154.6" r="6.2"/><circle cx="1438" cy="125" r="6.2"/><circle cx="1443.4" cy="135" r="6.2"/><circle cx="1448.8" cy="140" r="6.2"/><circle cx="1454.3" cy="134.7" r="6.2"/><circle cx="1459.7" cy="116" r="6.2"/><circle cx="1465.2" cy="125" r="6.2"/><circle cx="1470.6" cy="130" r="6.2"/><circle cx="1476" cy="140" r="6.2"/><circle cx="1481.5" cy="150" r="6.2"/><circle cx="1486.9" cy="160" r="6.2"/><circle cx="1492.3" cy="168" r="6.2"/><circle cx="1497.8" cy="173.2" r="6.2"/><circle cx="1503.2" cy="181" r="6.2"/><circle cx="1508.7" cy="175" r="6.2"/><circle cx="1514.1" cy="170" r="6.2"/><circle cx="1519.5" cy="165" r="6.2"/><circle cx="1525" cy="162.4" r="6.2"/><circle cx="1530.4" cy="138.4" r="6.2"/></g>
<polyline points="986.7,155 992.1,171 997.6,184.6 1003,192 1008.4,204 1013.9,187 1019.3,194.6 1024.8,204.5 1030.2,200.8 1035.6,198.3 1041.1,205.7 1046.5,168.5 1051.9,209.5 1057.4,224.4 1062.8,178.4 1068.3,214 1073.7,209.5 1079.1,239.8 1084.6,200.8 1090,231.4 1095.4,217.6 1100.9,237.4 1106.3,201 1111.8,199.6 1117.2,244.6 1122.6,230 1128.1,245.8 1133.5,214.6 1138.9,231.4 1144.4,225 1149.8,237.4 1155.2,217 1160.7,266.3 1166.1,230.2 1171.6,249 1177,261.8 1182.4,303.6 1187.9,272.8 1193.3,279.7 1198.7,257.9 1204.2,296.6 1209.6,272.8 1215.1,278.7 1220.5,244 1225.9,217 1231.4,160 1236.8,154 1242.2,158.2 1247.7,139.6 1253.1,135 1258.6,150 1264,157 1269.4,129.7 1274.9,140 1280.3,145.8 1285.7,165.8 1291.2,137.2 1296.6,149.6 1302,177.2 1307.5,165 1312.9,166 1318.4,170 1323.8,173.5 1329.2,168 1334.7,169 1340.1,154.6 1345.5,150 1351,143.4 1356.4,132.2 1361.9,132 1367.3,132.2 1372.7,135 1378.2,137.2 1383.6,152.1 1389,159.6 1394.5,160 1399.9,160.8 1405.3,168 1410.8,177.7 1416.2,178.5 1421.7,160.8 1427.1,172.2 1432.5,160 1438,150 1443.4,145.9 1448.8,142.2 1454.3,135 1459.7,126 1465.2,140 1470.6,158.5 1476,150 1481.5,158 1486.9,159.8 1492.3,165 1497.8,168 1503.2,171.5 1508.7,162 1514.1,160 1519.5,157 1525,155 1530.4,152.3" fill="none" stroke="#d1d2d4" stroke-width="5" stroke-linejoin="round"/>
<g fill="#d1d2d4"><circle cx="986.7" cy="155" r="6.2"/><circle cx="992.1" cy="171" r="6.2"/><circle cx="997.6" cy="184.6" r="6.2"/><circle cx="1003" cy="192" r="6.2"/><circle cx="1008.4" cy="204" r="6.2"/><circle cx="1013.9" cy="187" r="6.2"/><circle cx="1019.3" cy="194.6" r="6.2"/><circle cx="1024.8" cy="204.5" r="6.2"/><circle cx="1030.2" cy="200.8" r="6.2"/><circle cx="1035.6" cy="198.3" r="6.2"/><circle cx="1041.1" cy="205.7" r="6.2"/><circle cx="1046.5" cy="168.5" r="6.2"/><circle cx="1051.9" cy="209.5" r="6.2"/><circle cx="1057.4" cy="224.4" r="6.2"/><circle cx="1062.8" cy="178.4" r="6.2"/><circle cx="1068.3" cy="214" r="6.2"/><circle cx="1073.7" cy="209.5" r="6.2"/><circle cx="1079.1" cy="239.8" r="6.2"/><circle cx="1084.6" cy="200.8" r="6.2"/><circle cx="1090" cy="231.4" r="6.2"/><circle cx="1095.4" cy="217.6" r="6.2"/><circle cx="1100.9" cy="237.4" r="6.2"/><circle cx="1106.3" cy="201" r="6.2"/><circle cx="1111.8" cy="199.6" r="6.2"/><circle cx="1117.2" cy="244.6" r="6.2"/><circle cx="1122.6" cy="230" r="6.2"/><circle cx="1128.1" cy="245.8" r="6.2"/><circle cx="1133.5" cy="214.6" r="6.2"/><circle cx="1138.9" cy="231.4" r="6.2"/><circle cx="1144.4" cy="225" r="6.2"/><circle cx="1149.8" cy="237.4" r="6.2"/><circle cx="1155.2" cy="217" r="6.2"/><circle cx="1160.7" cy="266.3" r="6.2"/><circle cx="1166.1" cy="230.2" r="6.2"/><circle cx="1171.6" cy="249" r="6.2"/><circle cx="1177" cy="261.8" r="6.2"/><circle cx="1182.4" cy="303.6" r="6.2"/><circle cx="1187.9" cy="272.8" r="6.2"/><circle cx="1193.3" cy="279.7" r="6.2"/><circle cx="1198.7" cy="257.9" r="6.2"/><circle cx="1204.2" cy="296.6" r="6.2"/><circle cx="1209.6" cy="272.8" r="6.2"/><circle cx="1215.1" cy="278.7" r="6.2"/><circle cx="1220.5" cy="244" r="6.2"/><circle cx="1225.9" cy="217" r="6.2"/><circle cx="1231.4" cy="160" r="6.2"/><circle cx="1236.8" cy="154" r="6.2"/><circle cx="1242.2" cy="158.2" r="6.2"/><circle cx="1247.7" cy="139.6" r="6.2"/><circle cx="1253.1" cy="135" r="6.2"/><circle cx="1258.6" cy="150" r="6.2"/><circle cx="1264" cy="157" r="6.2"/><circle cx="1269.4" cy="129.7" r="6.2"/><circle cx="1274.9" cy="140" r="6.2"/><circle cx="1280.3" cy="145.8" r="6.2"/><circle cx="1285.7" cy="165.8" r="6.2"/><circle cx="1291.2" cy="137.2" r="6.2"/><circle cx="1296.6" cy="149.6" r="6.2"/><circle cx="1302" cy="177.2" r="6.2"/><circle cx="1307.5" cy="165" r="6.2"/><circle cx="1312.9" cy="166" r="6.2"/><circle cx="1318.4" cy="170" r="6.2"/><circle cx="1323.8" cy="173.5" r="6.2"/><circle cx="1329.2" cy="168" r="6.2"/><circle cx="1334.7" cy="169" r="6.2"/><circle cx="1340.1" cy="154.6" r="6.2"/><circle cx="1345.5" cy="150" r="6.2"/><circle cx="1351" cy="143.4" r="6.2"/><circle cx="1356.4" cy="132.2" r="6.2"/><circle cx="1361.9" cy="132" r="6.2"/><circle cx="1367.3" cy="132.2" r="6.2"/><circle cx="1372.7" cy="135" r="6.2"/><circle cx="1378.2" cy="137.2" r="6.2"/><circle cx="1383.6" cy="152.1" r="6.2"/><circle cx="1389" cy="159.6" r="6.2"/><circle cx="1394.5" cy="160" r="6.2"/><circle cx="1399.9" cy="160.8" r="6.2"/><circle cx="1405.3" cy="168" r="6.2"/><circle cx="1410.8" cy="177.7" r="6.2"/><circle cx="1416.2" cy="178.5" r="6.2"/><circle cx="1421.7" cy="160.8" r="6.2"/><circle cx="1427.1" cy="172.2" r="6.2"/><circle cx="1432.5" cy="160" r="6.2"/><circle cx="1438" cy="150" r="6.2"/><circle cx="1443.4" cy="145.9" r="6.2"/><circle cx="1448.8" cy="142.2" r="6.2"/><circle cx="1454.3" cy="135" r="6.2"/><circle cx="1459.7" cy="126" r="6.2"/><circle cx="1465.2" cy="140" r="6.2"/><circle cx="1470.6" cy="158.5" r="6.2"/><circle cx="1476" cy="150" r="6.2"/><circle cx="1481.5" cy="158" r="6.2"/><circle cx="1486.9" cy="159.8" r="6.2"/><circle cx="1492.3" cy="165" r="6.2"/><circle cx="1497.8" cy="168" r="6.2"/><circle cx="1503.2" cy="171.5" r="6.2"/><circle cx="1508.7" cy="162" r="6.2"/><circle cx="1514.1" cy="160" r="6.2"/><circle cx="1519.5" cy="157" r="6.2"/><circle cx="1525" cy="155" r="6.2"/><circle cx="1530.4" cy="152.3" r="6.2"/></g>
<polyline points="986.7,148.7 992.1,151 997.6,153.6 1003,156.7 1008.4,159.8 1013.9,163 1019.3,166 1024.8,153.3 1030.2,164.5 1035.6,152 1041.1,161 1046.5,141.3 1051.9,153.5 1057.4,158 1062.8,168 1068.3,171 1073.7,169.7 1079.1,177.5 1084.6,173.8 1090,173.2 1095.4,184.3 1100.9,172 1106.3,170.3 1111.8,178.5 1117.2,190 1122.6,192.4 1128.1,179.2 1133.5,180.4 1138.9,174.4 1144.4,180.4 1149.8,182.8 1155.2,185.2 1160.7,206.8 1166.1,205.6 1171.6,190 1177,212.8 1182.4,216.4 1187.9,211.6 1193.3,199.6 1198.7,206.8 1204.2,214 1209.6,188.8 1215.1,184 1220.5,174.4 1225.9,165.8 1231.4,145.7 1236.8,128.4 1242.2,112.3 1247.7,101.1 1253.1,117.3 1258.6,163.3 1264,104.3 1269.4,111 1274.9,121.6 1280.3,104.9 1285.7,109.2 1291.2,111 1296.6,125.3 1302,138.4 1307.5,139.7 1312.9,158.3 1318.4,152.1 1323.8,150.9 1329.2,154.6 1334.7,139.7 1340.1,134.7 1345.5,116 1351,119.8 1356.4,112.3 1361.9,109.9 1367.3,107.4 1372.7,112.3 1378.2,107.4 1383.6,127.2 1389,128.5 1394.5,135.9 1399.9,128.5 1405.3,137.2 1410.8,147.1 1416.2,148.4 1421.7,148.4 1427.1,122.3 1432.5,134.7 1438,107.4 1443.4,112.3 1448.8,114.8 1454.3,118.5 1459.7,104.9 1465.2,107.4 1470.6,108.6 1476,121 1481.5,114.8 1486.9,122.3 1492.3,126 1497.8,137.2 1503.2,139.7 1508.7,144.6 1514.1,134.7 1519.5,143.4 1525,124.8 1530.4,122.3" fill="none" stroke="#000" stroke-width="5" stroke-linejoin="round"/>
<g fill="#000"><circle cx="986.7" cy="148.7" r="6.2"/><circle cx="992.1" cy="151" r="6.2"/><circle cx="997.6" cy="153.6" r="6.2"/><circle cx="1003" cy="156.7" r="6.2"/><circle cx="1008.4" cy="159.8" r="6.2"/><circle cx="1013.9" cy="163" r="6.2"/><circle cx="1019.3" cy="166" r="6.2"/><circle cx="1024.8" cy="153.3" r="6.2"/><circle cx="1030.2" cy="164.5" r="6.2"/><circle cx="1035.6" cy="152" r="6.2"/><circle cx="1041.1" cy="161" r="6.2"/><circle cx="1046.5" cy="141.3" r="6.2"/><circle cx="1051.9" cy="153.5" r="6.2"/><circle cx="1057.4" cy="158" r="6.2"/><circle cx="1062.8" cy="168" r="6.2"/><circle cx="1068.3" cy="171" r="6.2"/><circle cx="1073.7" cy="169.7" r="6.2"/><circle cx="1079.1" cy="177.5" r="6.2"/><circle cx="1084.6" cy="173.8" r="6.2"/><circle cx="1090" cy="173.2" r="6.2"/><circle cx="1095.4" cy="184.3" r="6.2"/><circle cx="1100.9" cy="172" r="6.2"/><circle cx="1106.3" cy="170.3" r="6.2"/><circle cx="1111.8" cy="178.5" r="6.2"/><circle cx="1117.2" cy="190" r="6.2"/><circle cx="1122.6" cy="192.4" r="6.2"/><circle cx="1128.1" cy="179.2" r="6.2"/><circle cx="1133.5" cy="180.4" r="6.2"/><circle cx="1138.9" cy="174.4" r="6.2"/><circle cx="1144.4" cy="180.4" r="6.2"/><circle cx="1149.8" cy="182.8" r="6.2"/><circle cx="1155.2" cy="185.2" r="6.2"/><circle cx="1160.7" cy="206.8" r="6.2"/><circle cx="1166.1" cy="205.6" r="6.2"/><circle cx="1171.6" cy="190" r="6.2"/><circle cx="1177" cy="212.8" r="6.2"/><circle cx="1182.4" cy="216.4" r="6.2"/><circle cx="1187.9" cy="211.6" r="6.2"/><circle cx="1193.3" cy="199.6" r="6.2"/><circle cx="1198.7" cy="206.8" r="6.2"/><circle cx="1204.2" cy="214" r="6.2"/><circle cx="1209.6" cy="188.8" r="6.2"/><circle cx="1215.1" cy="184" r="6.2"/><circle cx="1220.5" cy="174.4" r="6.2"/><circle cx="1225.9" cy="165.8" r="6.2"/><circle cx="1231.4" cy="145.7" r="6.2"/><circle cx="1236.8" cy="128.4" r="6.2"/><circle cx="1242.2" cy="112.3" r="6.2"/><circle cx="1247.7" cy="101.1" r="6.2"/><circle cx="1253.1" cy="117.3" r="6.2"/><circle cx="1258.6" cy="163.3" r="6.2"/><circle cx="1264" cy="104.3" r="6.2"/><circle cx="1269.4" cy="111" r="6.2"/><circle cx="1274.9" cy="121.6" r="6.2"/><circle cx="1280.3" cy="104.9" r="6.2"/><circle cx="1285.7" cy="109.2" r="6.2"/><circle cx="1291.2" cy="111" r="6.2"/><circle cx="1296.6" cy="125.3" r="6.2"/><circle cx="1302" cy="138.4" r="6.2"/><circle cx="1307.5" cy="139.7" r="6.2"/><circle cx="1312.9" cy="158.3" r="6.2"/><circle cx="1318.4" cy="152.1" r="6.2"/><circle cx="1323.8" cy="150.9" r="6.2"/><circle cx="1329.2" cy="154.6" r="6.2"/><circle cx="1334.7" cy="139.7" r="6.2"/><circle cx="1340.1" cy="134.7" r="6.2"/><circle cx="1345.5" cy="116" r="6.2"/><circle cx="1351" cy="119.8" r="6.2"/><circle cx="1356.4" cy="112.3" r="6.2"/><circle cx="1361.9" cy="109.9" r="6.2"/><circle cx="1367.3" cy="107.4" r="6.2"/><circle cx="1372.7" cy="112.3" r="6.2"/><circle cx="1378.2" cy="107.4" r="6.2"/><circle cx="1383.6" cy="127.2" r="6.2"/><circle cx="1389" cy="128.5" r="6.2"/><circle cx="1394.5" cy="135.9" r="6.2"/><circle cx="1399.9" cy="128.5" r="6.2"/><circle cx="1405.3" cy="137.2" r="6.2"/><circle cx="1410.8" cy="147.1" r="6.2"/><circle cx="1416.2" cy="148.4" r="6.2"/><circle cx="1421.7" cy="148.4" r="6.2"/><circle cx="1427.1" cy="122.3" r="6.2"/><circle cx="1432.5" cy="134.7" r="6.2"/><circle cx="1438" cy="107.4" r="6.2"/><circle cx="1443.4" cy="112.3" r="6.2"/><circle cx="1448.8" cy="114.8" r="6.2"/><circle cx="1454.3" cy="118.5" r="6.2"/><circle cx="1459.7" cy="104.9" r="6.2"/><circle cx="1465.2" cy="107.4" r="6.2"/><circle cx="1470.6" cy="108.6" r="6.2"/><circle cx="1476" cy="121" r="6.2"/><circle cx="1481.5" cy="114.8" r="6.2"/><circle cx="1486.9" cy="122.3" r="6.2"/><circle cx="1492.3" cy="126" r="6.2"/><circle cx="1497.8" cy="137.2" r="6.2"/><circle cx="1503.2" cy="139.7" r="6.2"/><circle cx="1508.7" cy="144.6" r="6.2"/><circle cx="1514.1" cy="134.7" r="6.2"/><circle cx="1519.5" cy="143.4" r="6.2"/><circle cx="1525" cy="124.8" r="6.2"/><circle cx="1530.4" cy="122.3" r="6.2"/></g>
</g>
<polyline points="1773,251.5 1776.7,257 1780.5,269.4 1784.6,254.8 1789,249.3 1793.5,244.8 1798,237 1803.5,234.7 1808.7,231.4 1812.5,241.4 1815.8,243.7 1819.2,237 1823.6,262.7 1831.4,266 1838.1,271.6 1843.7,257 1846,244.8 1850.4,241.4 1852.7,230.3 1858.2,223.6 1862.7,215.8 1866,234.7 1871.6,239.2 1873.9,259.3 1879.4,282.7 1887.3,276 1891.7,272.7 1894,241.4 1898.4,233.6 1905.1,206.8 1909.6,219.1 1916.3,223.6 1920.7,254.8 1927.4,290.6 1934.1,297.3 1938.6,270.5 1943.1,233.6 1948.7,223.6 1952,206.8 1958.7,209.1 1966.5,241.4 1974.3,299.5 1977.7,333 1982.2,335.2 1987.7,277.2 1991.1,248.1 1995.5,221.4 2000,213.5 2007.8,218 2014.5,263.8 2019,308.4 2023.4,392 2026.9,480 2028.5,512.3 2030.2,552.6 2032.6,580 2035,596.1 2038.2,580 2040.6,544.5 2042.3,525.2 2044.7,517.1 2047.1,531.6 2048.7,560.6 2051.1,596.1 2053.5,583.2 2056,552.6 2058.4,512.3 2060.8,480 2064,392 2066.3,348.6 2069,304 2071.3,263.8 2074.6,237 2079,219.1 2085.8,205.7 2091.4,216.9 2095.8,245.9 2100.3,281.6 2104.7,328.5 2109.2,324 2114.8,281.6 2119.3,243.7 2123.7,219.1 2127.1,214.7 2130.4,216.9 2134.9,216.9 2139.4,233.6 2143.8,239.2 2147.2,266 2151.6,304 2155,290.6 2161.7,283.9 2165,259.3 2169.5,225.8 2176.2,214.7 2180.7,216.9 2185.1,225.8 2191.8,237 2198.5,272.7 2205.2,281.6 2210.8,266 2216.4,256 2219.7,232.5 2225.3,228 2232,215.8 2236.5,232.5 2241,254.8 2248.8,259.3 2253.2,274.9 2257.7,259.3 2263.3,259.3 2265.5,243.7 2272.2,234.7 2277.8,230.3 2281.1,238.1 2287.8,240.3 2292.3,247 2295.6,260.4 2302.3,256 2310.2,261.5 2314.6,258.2" fill="none" stroke="#000" stroke-width="4.5" stroke-linejoin="round"/>
<rect x="602.8" y="413.5" width="43" height="5" fill="#000"/>
<circle cx="624.3" cy="416" r="6.5" fill="#000"/>
<text x="669" y="427" font-size="28.5" fill="#231f20" stroke="#231f20" text-anchor="start" textLength="33.5" lengthAdjust="spacingAndGlyphs" font-weight="bold">all</text>
<rect x="602.8" y="468.6" width="43" height="5" fill="#d1d2d4"/>
<circle cx="624.3" cy="471.1" r="6.5" fill="#d1d2d4"/>
<text x="669" y="482.1" font-size="28.5" fill="#939598" stroke="#939598" text-anchor="start" textLength="39.5" lengthAdjust="spacingAndGlyphs" font-weight="bold">CG</text>
<rect x="602.8" y="524" width="43" height="5" fill="#ef4044"/>
<circle cx="624.3" cy="526.5" r="6.5" fill="#ef4044"/>
<text x="669" y="537.5" font-size="28.5" fill="#ef4044" stroke="#ef4044" text-anchor="start" textLength="40" lengthAdjust="spacingAndGlyphs" font-weight="bold">GC</text>
<rect x="602.8" y="579.5" width="43" height="5" fill="#8083c1"/>
<circle cx="624.3" cy="582" r="6.5" fill="#8083c1"/>
<text x="669" y="593" font-size="28.5" fill="#8083c1" stroke="#8083c1" text-anchor="start" textLength="64.5" lengthAdjust="spacingAndGlyphs" font-weight="bold">m6A</text>
<rect x="1379.1" y="414" width="43" height="5" fill="#000"/>
<circle cx="1400.6" cy="416.5" r="6.5" fill="#000"/>
<text x="1446" y="427.5" font-size="28.5" fill="#231f20" stroke="#231f20" text-anchor="start" textLength="33.5" lengthAdjust="spacingAndGlyphs" font-weight="bold">all</text>
<rect x="1379.1" y="469.4" width="43" height="5" fill="#d1d2d4"/>
<circle cx="1400.6" cy="471.9" r="6.5" fill="#d1d2d4"/>
<text x="1446" y="482.9" font-size="28.5" fill="#939598" stroke="#939598" text-anchor="start" textLength="39.5" lengthAdjust="spacingAndGlyphs" font-weight="bold">CG</text>
<rect x="1379.1" y="524.8" width="43" height="5" fill="#ef4044"/>
<circle cx="1400.6" cy="527.3" r="6.5" fill="#ef4044"/>
<text x="1446" y="538.3" font-size="28.5" fill="#ef4044" stroke="#ef4044" text-anchor="start" textLength="40" lengthAdjust="spacingAndGlyphs" font-weight="bold">GC</text>
<rect x="1379.1" y="580" width="43" height="5" fill="#8083c1"/>
<circle cx="1400.6" cy="582.5" r="6.5" fill="#8083c1"/>
<text x="1446" y="593.5" font-size="28.5" fill="#8083c1" stroke="#8083c1" text-anchor="start" textLength="64.5" lengthAdjust="spacingAndGlyphs" font-weight="bold">m6A</text>
<rect x="2174" y="463" width="43" height="5" fill="#000"/>
<text x="2240" y="477" font-size="28.5" fill="#231f20" stroke="#231f20" text-anchor="start" textLength="64" lengthAdjust="spacingAndGlyphs" font-weight="bold">m6A</text>
</svg>
</body></html>
